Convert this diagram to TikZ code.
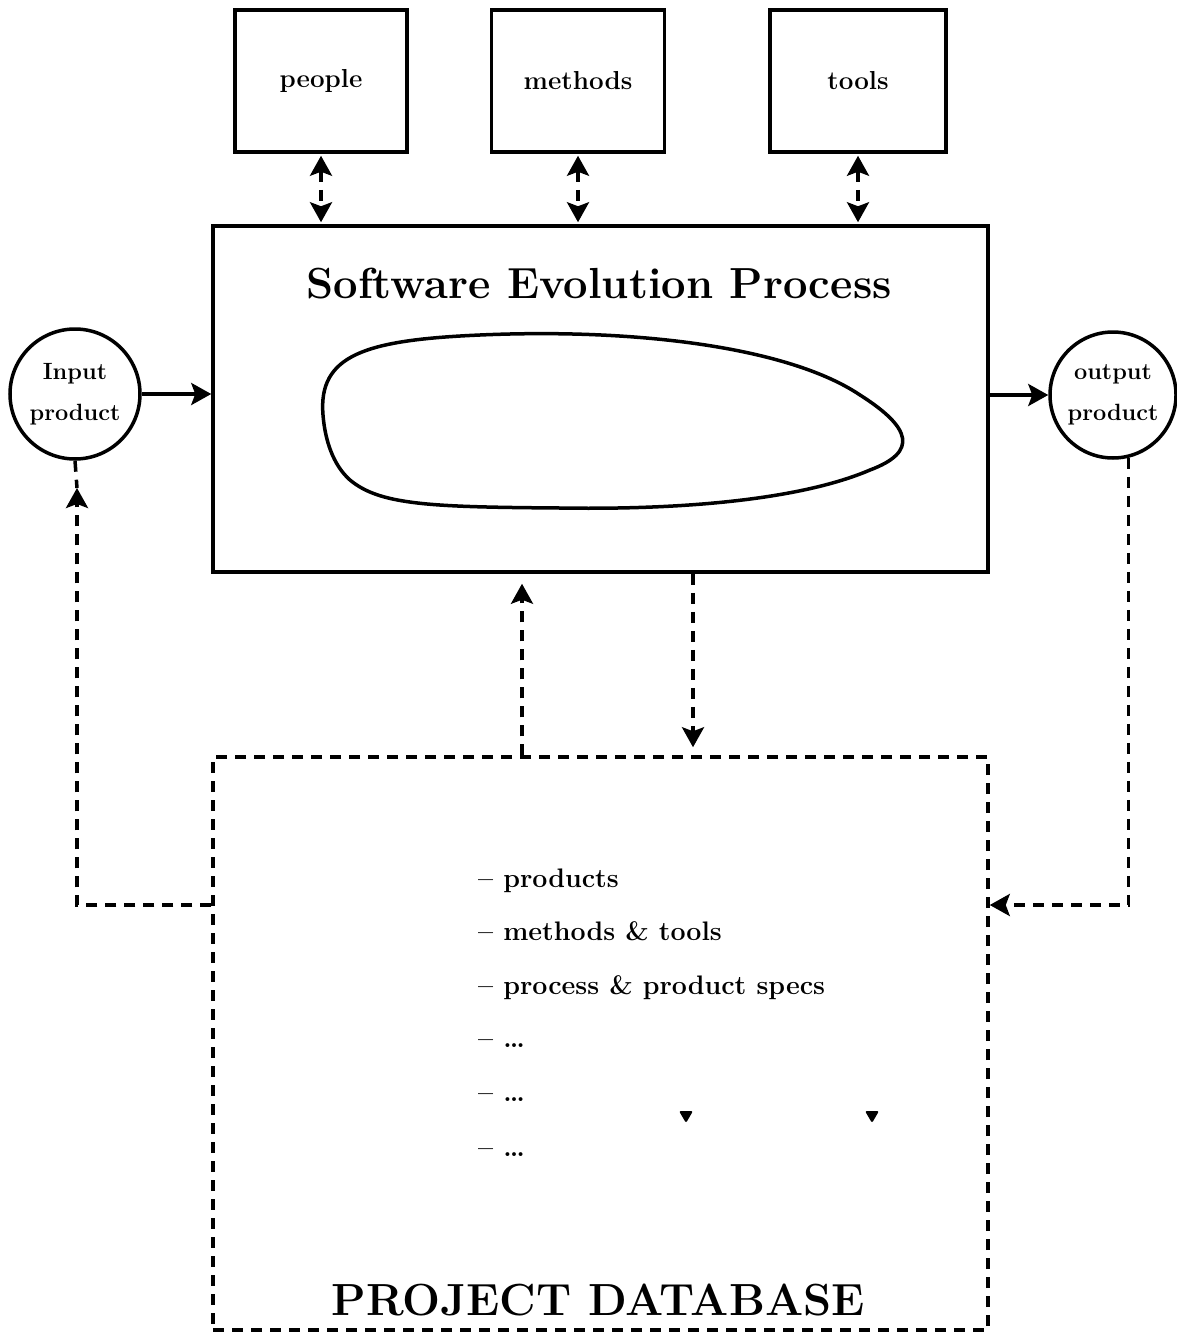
\documentclass[tikz,border=0pt]{standalone}
\usetikzlibrary{arrows.meta,calc}
\newcommand\boxfont{\fontsize{26}{30}\selectfont\bfseries}
\newcommand\circfont{\fontsize{23.5}{41}\selectfont\bfseries}
\newcommand\listfont{\fontsize{26.8}{30}\selectfont\bfseries}
\begin{document}
\begin{tikzpicture}[x=1pt,y=-1pt,
  >={Stealth[length=20pt,width=22pt,inset=4pt]},
  sbox/.style={draw,line width=3.5pt,inner sep=0pt},
  dline/.style={line width=3.5pt,dash pattern=on 11pt off 8pt},
  sline/.style={line width=3.5pt},
  listitem/.style={anchor=base west,inner sep=0pt,font=\listfont}]
\useasboundingbox (0,0) rectangle (1177,1338);

% top boxes
\node[sbox,minimum width=172pt,minimum height=142pt,font=\boxfont] (people) at (321,81) {people};
\node[sbox,minimum width=173pt,minimum height=142pt,font=\boxfont] (methods) at (578,81) {methods};
\node[sbox,minimum width=176pt,minimum height=142pt,font=\boxfont] (tools) at (858,81) {tools};

% main process box
\node[sbox,minimum width=775pt,minimum height=346pt] (proc) at (600.5,399) {};
\node (title) at (599,284) {\fontsize{43.5}{50}\selectfont\bfseries Software Evolution Process};
\draw[line width=3.5pt] (323,415) .. controls (318,355) and (365,340) .. (480,335)
  .. controls (640,328) and (790,348) .. (860,395)
  .. controls (912,428) and (918,452) .. (870,470)
  .. controls (800,500) and (680,510) .. (560,508)
  .. controls (430,507) and (380,505) .. (350,480)
  .. controls (333,465) and (325,440) .. (323,415) -- cycle;

% circles
\node[sbox,circle,minimum size=130pt,align=center,font=\circfont] (inp) at (75,394) {Input\\product};
\node[sbox,circle,minimum size=126pt,align=center,font=\circfont] (out) at (1113,395) {output\\product};

% solid arrows
\draw[sline,->] (inp.east) -- (inp.east -| proc.west);
\draw[sline,->] (proc.east |- out.west) -- (out.west);

% top double arrows
\draw[dline,<->,shorten <=2pt,shorten >=2pt] (people.south) -- (people.south |- proc.north);
\draw[dline,<->,shorten <=2pt,shorten >=2pt] (methods.south) -- (methods.south |- proc.north);
\draw[dline,<->,shorten <=2pt,shorten >=2pt] (tools.south) -- (tools.south |- proc.north);

% project database
\node[draw,dline,minimum width=775pt,minimum height=573pt,inner sep=0pt] (db) at (600.5,1043.5) {};
\node (dbt) at (598,1300) {\fontsize{45}{50}\selectfont\bfseries PROJECT DATABASE};

\node[listitem] (l1) at (478,887) {-- products};
\node[listitem] (l2) at (478,940) {-- methods \& tools};
\node[listitem] (l3) at (478,994) {-- process \& product specs};
\node[listitem] (l4) at (478,1047) {-- \ldots};
\node[listitem] (l5) at (478,1101) {-- \ldots};
\node[listitem] (l6) at (478,1156) {-- \ldots};

\fill[rounded corners=2pt] (679,1111) -- (693,1111) -- (686,1123) -- cycle;
\fill[rounded corners=2pt] (865,1111) -- (879,1111) -- (872,1123) -- cycle;

% database <-> process
\draw[dline,->,shorten >=10pt] (522,0 |- db.north) -- (522,0 |- proc.south);
\draw[dline,->,shorten >=8pt] (693,0 |- proc.south) -- (693,0 |- db.north);

% feedback loops
\coordinate (ia) at (77,488);
\draw[dline] (inp.south) -- (ia);
\draw[dline,->] (db.west |- 0,905) -| (ia);
\draw[dline,->] (out.-76) |- (db.east |- 0,905);
\end{tikzpicture}
\end{document}
